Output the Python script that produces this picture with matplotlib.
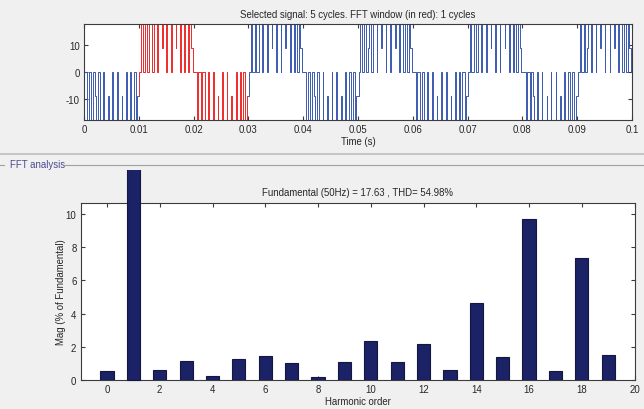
import matplotlib.pyplot as plt
from matplotlib.lines import Line2D
from matplotlib.transforms import Bbox, TransformedBbox

plt.rcParams['font.family'] = ['Liberation Sans', 'DejaVu Sans']
plt.rcParams['font.size'] = 7
plt.rcParams['axes.unicode_minus'] = False

BG = '#f0f0f0'
INK = '#262626'
FS = 6.9

# inverter output, one step = half the DC link
STEP = 8.815
PERIOD = 0.02
N_CYCLES = 5
FFT_WINDOW = (0.01, 0.03)

# one period: switching instants (ms) and level (in steps) after each edge
NEG_EDGES_MS = [0.6, 0.85, 1.3, 1.6, 2.0, 2.1, 2.6, 2.85, 3.55, 3.65, 4.4, 4.5,
                5.2, 5.3, 6.05, 6.15, 6.9, 7.0, 7.65, 7.85, 8.4, 8.65, 9.05,
                9.45, 9.7, 10.1]
NEG_STEPS = [-2, 0, -2, 0, -1, -2, 0, -2, 0, -2, -1, -2,
             0, -2, 0, -2, -1, -2, 0, -2, 0, -2, 0,
             -2, -1, 0]
POS_EDGES_MS = [10.45, 10.7, 11.15, 11.45, 11.85, 11.95, 12.45, 12.7, 13.4, 13.5,
                14.25, 14.35, 15.05, 15.15, 15.9, 16.0, 16.75, 16.85, 17.5, 17.7,
                18.25, 18.5, 18.9, 19.25, 19.5, 19.8]
POS_STEPS = [2, 0, 2, 0, 1, 2, 0, 2, 0, 2,
             1, 2, 0, 2, 0, 2, 1, 2, 0, 2,
             0, 2, 0, 2, 1, 0]

TIME_TICKS = [0, 0.01, 0.02, 0.03, 0.04, 0.05, 0.06, 0.07, 0.08, 0.09, 0.1]
TIME_TICK_LABELS = ['0', '0.01', '0.02', '0.03', '0.04', '0.05', '0.06', '0.07',
                    '0.08', '0.09', '0.1']

HARMONICS = list(range(20))
MAG_PCT = [0.53, 100, 0.60, 1.15, 0.26, 1.29, 1.45, 1.01, 0.18, 1.11,
           2.36, 1.10, 2.18, 0.60, 4.65, 1.41, 9.69, 0.52, 7.33, 1.51]
FUNDAMENTAL = 17.63
THD = 54.98


def build_wave():
    t, v = [0.0], [0.0]
    edges = NEG_EDGES_MS + POS_EDGES_MS
    steps = NEG_STEPS + POS_STEPS
    for k in range(N_CYCLES):
        for e, s in zip(edges, steps):
            t.append(k * PERIOD + e / 1000.0)
            v.append(s * STEP)
    t.append(N_CYCLES * PERIOD)
    v.append(v[-1])
    return t, v


def slice_steps(t, v, a, b):
    # part of a post-step waveform between a and b
    st, sv = [a], [None]
    for ti, vi in zip(t, v):
        if ti <= a:
            sv[0] = vi
        elif ti < b:
            st.append(ti)
            sv.append(vi)
    st.append(b)
    sv.append(sv[-1])
    return st, sv


def matlab_axes(ax):
    ax.set_facecolor('white')
    for sp in ax.spines.values():
        sp.set_color('#3c3c3c')
        sp.set_linewidth(0.8)
    ax.tick_params(direction='in', top=True, right=True, colors='#3c3c3c',
                   labelcolor=INK, labelsize=FS, length=3, width=0.8, pad=3)


fig = plt.figure(figsize=(6.44, 4.10), dpi=100, facecolor=BG)

# time signal
ax1 = fig.add_axes([84 / 644, 1 - 121 / 410, 548 / 644, 96 / 410])
matlab_axes(ax1)
t, v = build_wave()
for a, b, c in [(0, FFT_WINDOW[0], '#3a5ab0'), (FFT_WINDOW[0], FFT_WINDOW[1], '#ee2a2a'),
                (FFT_WINDOW[1], N_CYCLES * PERIOD, '#3a5ab0')]:
    st, sv = slice_steps(t, v, a, b)
    ax1.step(st, sv, where='post', color=c, lw=0.7, clip_on=False)
ax1.set_xlim(0, 0.1)
ax1.set_ylim(-2 * STEP, 2 * STEP)
ax1.set_yticks([-10, 0, 10])
ax1.set_xticks(TIME_TICKS)
ax1.set_xticklabels(TIME_TICK_LABELS)
ax1.set_title('Selected signal: 5 cycles. FFT window (in red): 1 cycles',
              fontsize=FS, color=INK, pad=5)
ax1.set_xlabel('Time (s)', fontsize=FS, color=INK, labelpad=1)

# panel separators
fig.add_artist(Line2D([0, 1], [1 - 155 / 410] * 2, transform=fig.transFigure,
                      color='#c4c4c4', lw=1.4))
fig.add_artist(Line2D([0, 4 / 644], [1 - 165.5 / 410] * 2, transform=fig.transFigure,
                      color='#a0a0a0', lw=0.8))
fig.add_artist(Line2D([65 / 644, 1], [1 - 165.5 / 410] * 2, transform=fig.transFigure,
                      color='#a0a0a0', lw=0.8))
fig.text(10 / 644, 1 - 165.5 / 410, 'FFT analysis', color='#4a4a90', fontsize=FS,
         va='center', ha='left')

# harmonic spectrum
ax2 = fig.add_axes([80.6 / 644, 1 - 381 / 410, 554 / 644, 177 / 410])
matlab_axes(ax2)
bars = ax2.bar(HARMONICS, MAG_PCT, width=0.5, color='#1b2266', edgecolor='#14173f',
               lw=0.8, zorder=3)
# fundamental bar runs above the axes, cut at the panel
bars[1].set_clip_box(TransformedBbox(Bbox.from_extents(0, 0, 1, 1 - 171 / 410),
                                     fig.transFigure))
ax2.set_xlim(-1, 20)
ax2.set_ylim(0, 1.1 * max(MAG_PCT[2:] + MAG_PCT[:1]))
ax2.set_xticks(range(0, 21, 2))
ax2.set_yticks(range(0, 11, 2))
ax2.set_title(f'Fundamental (50Hz) = {FUNDAMENTAL:.2f} , THD= {THD:.2f}%',
              fontsize=FS, color=INK, pad=6)
ax2.set_xlabel('Harmonic order', fontsize=FS, color=INK, labelpad=1)
ax2.set_ylabel('Mag (% of Fundamental)', fontsize=FS, color=INK, labelpad=0)

fig.savefig('out.png', dpi=100, facecolor=BG)
